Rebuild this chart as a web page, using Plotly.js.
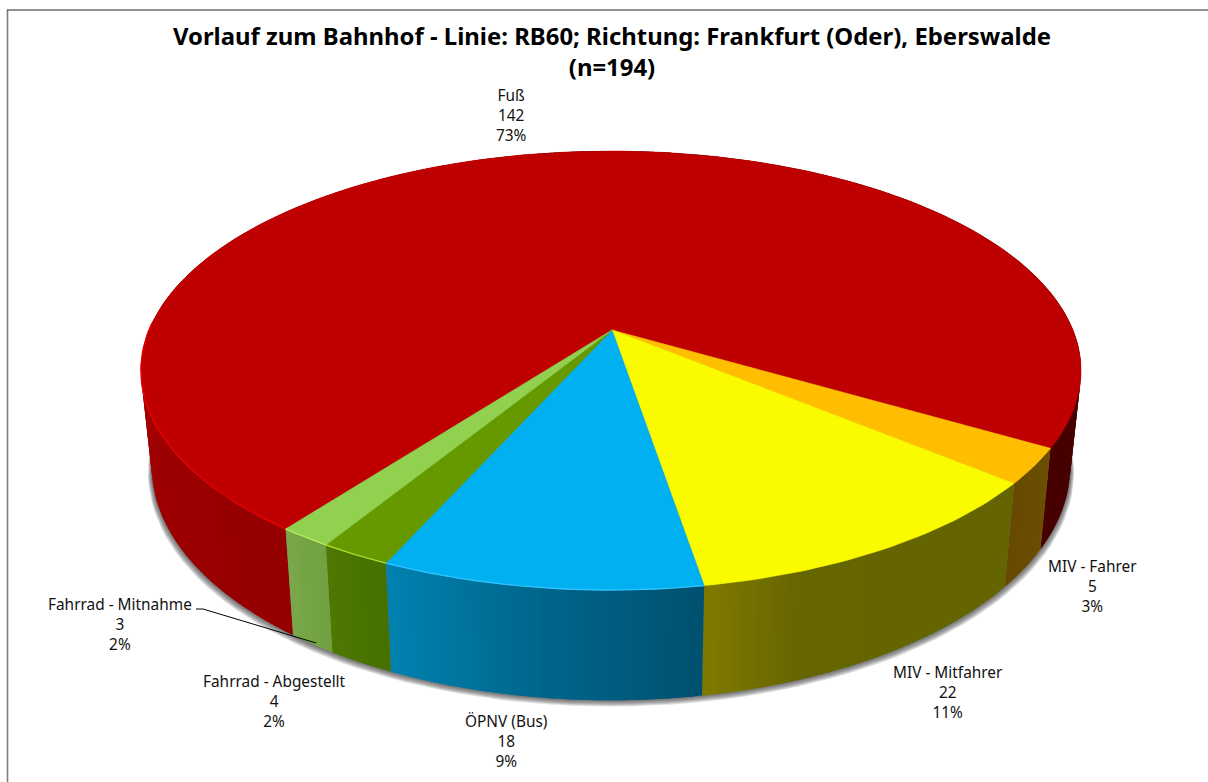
<!DOCTYPE html>
<html><head><meta charset="utf-8">
<script src="https://cdn.plot.ly/plotly-3.0.1.min.js"></script>
<style>html,body{margin:0;padding:0;background:#fff}#c{width:1208px;height:782px}</style></head>
<body><div id="c"></div>
<script>
// ---- data ----
const categories = ['Fuß','MIV - Fahrer','MIV - Mitfahrer','ÖPNV (Bus)','Fahrrad - Abgestellt','Fahrrad - Mitnahme'];
const counts = [142,5,22,18,4,3];
const percents = ['73%','3%','11%','9%','2%','2%'];
const titleLines = ['Vorlauf zum Bahnhof - Linie: RB60; Richtung: Frankfurt (Oder), Eberswalde','(n=194)'];

// ---- styling ----
const topColors = ['#be0000','#ffbe00','#fbfb00','#00b0f0','#669900','#92d050'];
// wall shade stops per slice, in order of increasing angle (clockwise on screen)
const wallStops = [
  [[0,'#950000'],[0.1,'#9c0000'],[0.2,'#a50000'],[0.5,'#a50000'],[0.5001,'#4a0000'],[1,'#470000']],
  [[0,'#6b4e00'],[1,'#674a00']],
  [[0,'#646400'],[0.75,'#666600'],[1,'#807a00']],
  [[0,'#00506f'],[0.5,'#00668c'],[1,'#0082b0']],
  [[0,'#467000'],[1,'#4e7800']],
  [[0,'#70a040'],[1,'#7aa84a']]
];
const rimColors = ['#e60000',null,null,'#30c4ff','#a8dc30','#b8ec60'];
const labelPos = [[511,115],[1092,586],[948,692],[506,741],[274,701],[120,624]];

// ---- projection of the tilted disc ----
const CX=611, A=462, Y0=330, B=212, K=-0.1845, START=30.4;
const WALL_S=0.977, WALL_Y0=550, WALL_YREF=449, WALL_T=1.066;
function topPt(deg){const t=deg*Math.PI/180,u=Math.cos(t),v=Math.sin(t),w=1+K*v;return [CX+A*u/w,Y0+B*v/w];}
function botPt(deg){const p=topPt(deg);return [CX+WALL_S*(p[0]-CX),WALL_Y0+(p[1]-WALL_YREF)*WALL_T];}
const hex=c=>[1,3,5].map(i=>parseInt(c.slice(i,i+2),16));
function mix(stops,f){
  for(let i=1;i<stops.length;i++){ if(f<=stops[i][0]){
    const g=(f-stops[i-1][0])/(stops[i][0]-stops[i-1][0]||1),a=hex(stops[i-1][1]),b=hex(stops[i][1]);
    return 'rgb('+a.map((x,j)=>Math.round(x+(b[j]-x)*g)).join(',')+')';}}
  return stops[stops.length-1][1];
}
function poly(pts,color,lw){
  return {type:'scatter',mode:'lines',x:pts.map(p=>p[0]),y:pts.map(p=>p[1]),fill:'toself',fillcolor:color,
    line:{color:lw?color:'rgba(0,0,0,0)',width:lw||0},hoverinfo:'skip',showlegend:false};
}
function stroke(pts,color,width){
  return {type:'scatter',mode:'lines',x:pts.map(p=>p[0]),y:pts.map(p=>p[1]),line:{color,width},hoverinfo:'skip',showlegend:false};
}
function arc(fn,a,b,n){const o=[];for(let i=0;i<=n;i++)o.push(fn(a+(b-a)*i/n));return o;}

const total=counts.reduce((a,b)=>a+b,0);
const slices=[];
let ang=START-counts[0]/total*360;
counts.forEach((c,i)=>{const sweep=c/total*360;slices.push([ang,ang+sweep]);ang+=sweep;});

const traces=[];
// soft drop shadow beneath the disc
for(let k=7;k>=1;k--){
  const pts=arc(d=>{const p=botPt(d);return [CX+(p[0]-CX)*(1+k*0.0012),p[1]+k*0.9];},0,360,180);
  traces.push(poly(pts,'rgba(60,60,60,0.15)'));
}
// side walls as shaded strips; each strip runs under the next one so no seam shows
slices.forEach((s,i)=>{
  const n=Math.max(6,Math.round((s[1]-s[0])/0.8));
  const step=(s[1]-s[0])/n;
  for(let j=0;j<n;j++){
    const a=s[0]+step*j,b=j===n-1?s[1]:a+step*1.8;
    traces.push(poly(arc(topPt,a,b,3).concat(arc(botPt,b,a,3)).concat([topPt(a)]),mix(wallStops[i],(j+0.5)/n)));
  }
});
// top faces
slices.forEach((s,i)=>{
  const pts=[[CX+1,Y0]].concat(arc(topPt,s[0],s[1],Math.max(6,Math.round(s[1]-s[0])))).concat([[CX+1,Y0]]);
  traces.push(poly(pts,topColors[i],0.5));
});
// highlighted front rim
slices.forEach((s,i)=>{
  if(!rimColors[i])return;
  const pts=i===0?arc(topPt,s[0],s[0]+55,50):arc(topPt,s[0],s[1],20);
  traces.push(stroke(pts,rimColors[i],1.4));
});
// leader line for Fahrrad - Mitnahme
traces.push(stroke([[196,609],[203,609],[316,643]],'#000',1));
// frame of the chart area
traces.push(stroke([[7.5,782],[7.5,10]],'#7f7f7f',1.6));
traces.push(stroke([[7,10],[1208,10]],'#222',1));

const FONT='"Noto Sans", sans-serif';
const annotations=categories.map((c,i)=>({
  x:labelPos[i][0],y:labelPos[i][1],xref:'x',yref:'y',showarrow:false,align:'center',
  text:c+'<br>'+counts[i]+'<br>'+percents[i],font:{family:FONT,size:15.4,color:'#111'}
}));

Plotly.newPlot('c',traces,{
  width:1208,height:782,margin:{l:0,r:0,t:0,b:0},paper_bgcolor:'#fff',plot_bgcolor:'#fff',showlegend:false,
  xaxis:{range:[0,1208],visible:false,fixedrange:true},
  yaxis:{range:[782,0],visible:false,fixedrange:true},
  title:{text:titleLines.join('<br>'),x:612/1208,xanchor:'center',y:1-45/782,yanchor:'top',font:{family:FONT,size:23.9,color:'#000',weight:700}},
  annotations
},{displayModeBar:false,staticPlot:true});
</script></body></html>
